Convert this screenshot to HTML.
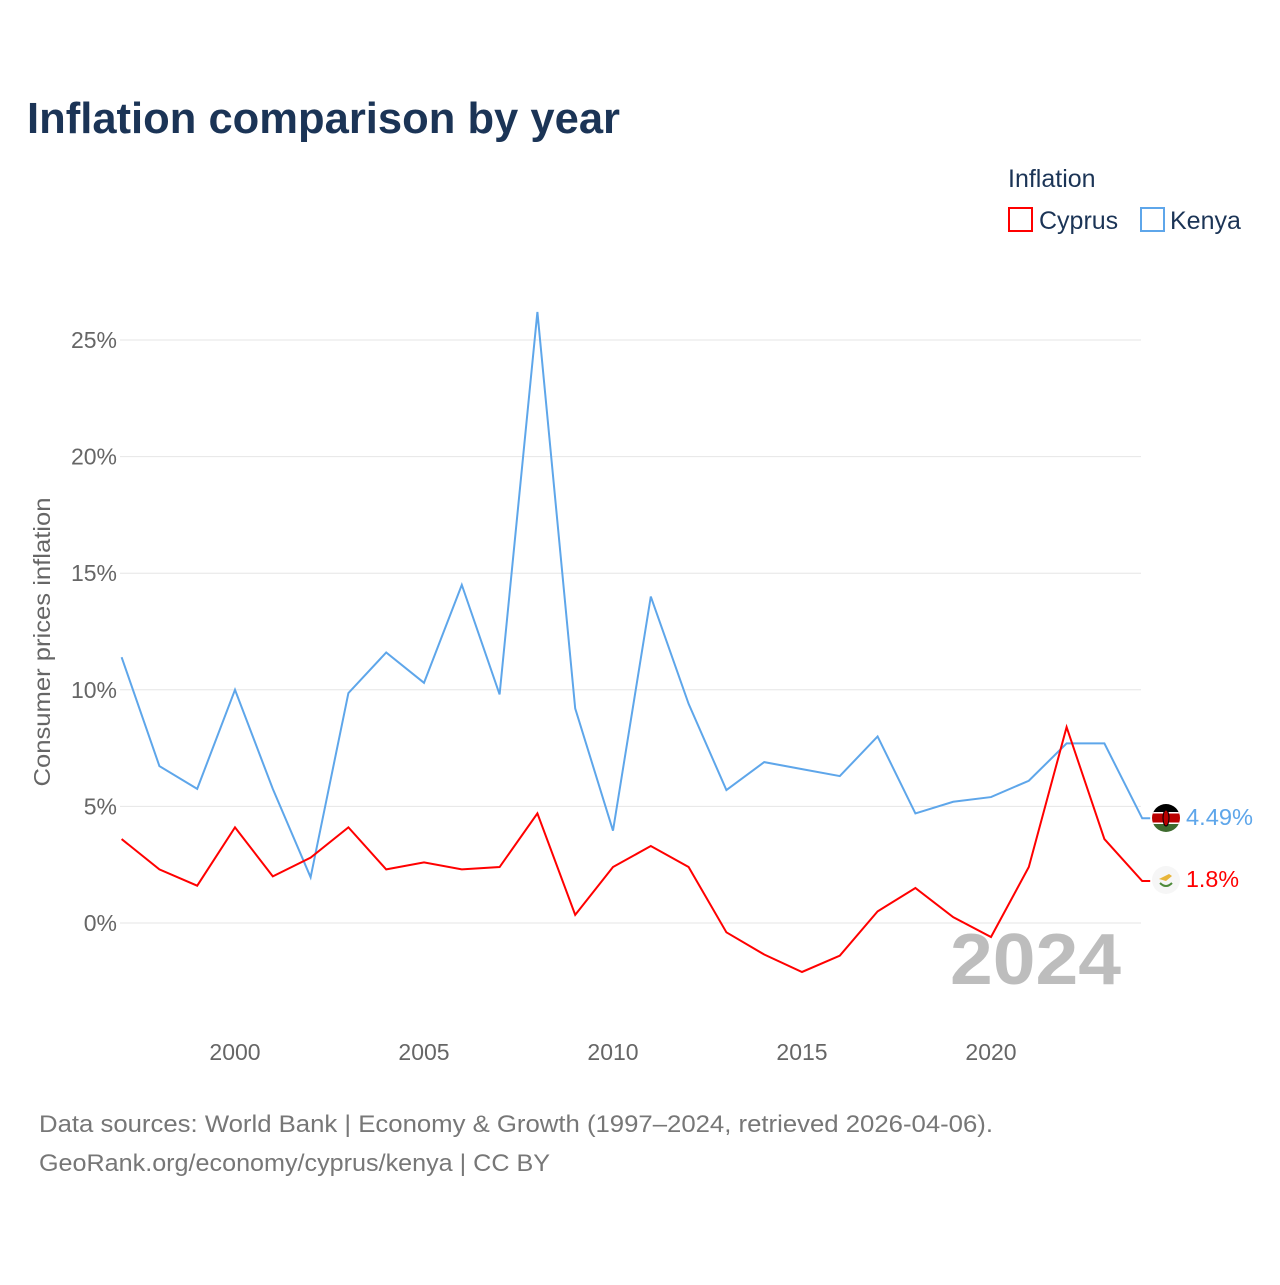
<!DOCTYPE html>
<html><head><meta charset="utf-8">
<style>
body{margin:0;background:#fff;font-family:"Liberation Sans",sans-serif;}
</style></head>
<body>
<svg id="chart" width="1280" height="1280" xmlns="http://www.w3.org/2000/svg" font-family="Liberation Sans, sans-serif">
<rect width="1280" height="1280" fill="#fff"/>
<text x="27" y="133" font-size="44" font-weight="bold" fill="#1b3456" textLength="593" lengthAdjust="spacingAndGlyphs">Inflation comparison by year</text>
<text x="1008" y="187" font-size="25" fill="#1b3456">Inflation</text>
<g>
<rect x="1009" y="208" width="23" height="23" fill="none" stroke="#f00" stroke-width="2"/>
<text x="1039" y="229" font-size="25" fill="#1b3456">Cyprus</text></g>
<g>
<rect x="1141" y="208" width="23" height="23" fill="none" stroke="#5ea6ea" stroke-width="2"/>
<text x="1170" y="229" font-size="25" fill="#1b3456">Kenya</text></g>
<text transform="translate(50,642) rotate(-90)" text-anchor="middle" font-size="23" fill="#666" textLength="289" lengthAdjust="spacingAndGlyphs">Consumer prices inflation</text>
<g id="grid"></g>
<g id="xt"></g>
<text x="950" y="984" font-size="72" font-weight="bold" fill="#bdbdbd" textLength="171" lengthAdjust="spacingAndGlyphs">2024</text>
<g id="series"></g>
<g>
<clipPath id="kc"><circle cx="1166" cy="818" r="14"/></clipPath>
<g clip-path="url(#kc)">
<rect x="1150" y="803" width="32" height="10" fill="#000"/>
<rect x="1150" y="813" width="32" height="10" fill="#b00"/>
<rect x="1150" y="823" width="32" height="10" fill="#3e6b2e"/>
<rect x="1150" y="812" width="32" height="1.5" fill="#fff"/>
<rect x="1150" y="822.5" width="32" height="1.5" fill="#fff"/>
<ellipse cx="1166" cy="818" rx="3" ry="8" fill="#b00" stroke="#000" stroke-width="1"/>
</g></g>
<g>
<circle cx="1166" cy="880" r="14" fill="#f6f6f6"/>
<path d="M1159 879 l10 -5 l3 2 l-6 5 z" fill="#e8b53a"/>
<path d="M1160 883 q6 6 12 0" fill="none" stroke="#4e8a3a" stroke-width="2"/>
</g>
<text x="1186" y="825" font-size="23" fill="#5ea6ea" textLength="67" lengthAdjust="spacingAndGlyphs">4.49%</text>
<text x="1186" y="887" font-size="23" fill="#f00" textLength="53" lengthAdjust="spacingAndGlyphs">1.8%</text>
<text x="39" y="1132" font-size="24" fill="#777" textLength="954" lengthAdjust="spacingAndGlyphs">Data sources: World Bank | Economy &amp; Growth (1997–2024, retrieved 2026-04-06).</text>
<text x="39" y="1171" font-size="24" fill="#777" textLength="511" lengthAdjust="spacingAndGlyphs">GeoRank.org/economy/cyprus/kenya | CC BY</text>
</svg>
<script>
const years=[1997,1998,1999,2000,2001,2002,2003,2004,2005,2006,2007,2008,2009,2010,2011,2012,2013,2014,2015,2016,2017,2018,2019,2020,2021,2022,2023,2024];
const kenya=[11.4,6.73,5.75,10.0,5.75,1.96,9.86,11.6,10.3,14.5,9.8,26.2,9.2,3.96,14.0,9.4,5.7,6.9,6.6,6.3,8.0,4.7,5.2,5.4,6.1,7.7,7.7,4.49];
const cyprus=[3.6,2.3,1.6,4.1,2.0,2.8,4.1,2.3,2.6,2.3,2.4,4.7,0.35,2.4,3.3,2.4,-0.4,-1.35,-2.1,-1.4,0.5,1.5,0.25,-0.6,2.4,8.4,3.6,1.8];
const yTicks=[0,5,10,15,20,25];
const yTickLabels=["0%","5%","10%","15%","20%","25%"];
const xTicks=[2000,2005,2010,2015,2020];
const NS="http://www.w3.org/2000/svg";
const x=v=>121.6+(v-1997)*37.8;
const y=v=>923-v*23.32;
const grid=document.getElementById('grid');
yTicks.forEach((t,i)=>{
 const l=document.createElementNS(NS,'line');
 
 
 l.setAttribute('x1',120);l.setAttribute('x2',1141);l.setAttribute('y1',y(t));l.setAttribute('y2',y(t));
 l.setAttribute('stroke','#e6e6e6');l.setAttribute('stroke-width',1);grid.appendChild(l);
 const tx=document.createElementNS(NS,'text');
 
 
 tx.setAttribute('x',117);tx.setAttribute('y',y(t)+8);tx.setAttribute('text-anchor','end');
 tx.setAttribute('font-size',23);tx.setAttribute('fill','#666');tx.textContent=yTickLabels[i];grid.appendChild(tx);
});
const xt=document.getElementById('xt');
xTicks.forEach(t=>{
 const tx=document.createElementNS(NS,'text');
 
 
 tx.setAttribute('x',x(t));tx.setAttribute('y',1060);tx.setAttribute('text-anchor','middle');
 tx.setAttribute('font-size',23);tx.setAttribute('fill','#666');tx.textContent=t;xt.appendChild(tx);
});
const s=document.getElementById('series');
function line(vals,color,name){
 const p=document.createElementNS(NS,'polyline');
 
 
 let pts=vals.map((v,i)=>x(years[i])+','+y(v));
 const last=vals[vals.length-1];
 pts.push((x(years[years.length-1])+8)+','+y(last));
 p.setAttribute('points',pts.join(' '));
 p.setAttribute('fill','none');p.setAttribute('stroke',color);p.setAttribute('stroke-width',2);
 s.appendChild(p);
}
line(kenya,'#5ea6ea','kenya-line');
line(cyprus,'#f00','cyprus-line');
</script>
</body></html>
